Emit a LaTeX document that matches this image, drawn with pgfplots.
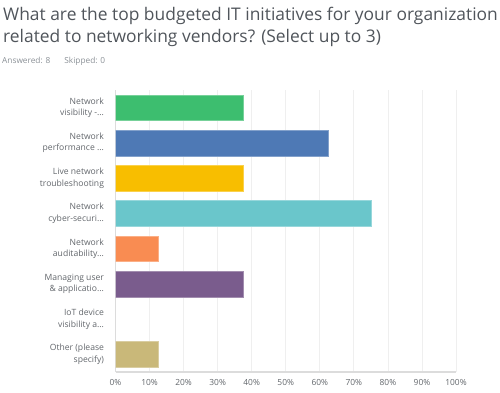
\documentclass[border=0pt]{standalone}
\usepackage{fontspec}
\setmainfont{Open Sans}
\usepackage{pgfplots}
\pgfplotsset{compat=1.18}
\newcommand{\dd}{.\kern0pt.\kern0pt.}
\definecolor{cgreen}{HTML}{3DBE6F}
\definecolor{cblue}{HTML}{4E79B5}
\definecolor{cyellow}{HTML}{F8BE00}
\definecolor{cteal}{HTML}{6AC6CB}
\definecolor{corange}{HTML}{F98C52}
\definecolor{cpurple}{HTML}{7A5C8D}
\definecolor{ctan}{HTML}{C9B879}
\definecolor{ctitle}{HTML}{50555B}
\definecolor{clabel}{HTML}{62666B}
\definecolor{csub}{HTML}{8A9096}
\definecolor{cgrid}{HTML}{EFEFEF}
\definecolor{caxis}{HTML}{DCDCDC}
\begin{document}
\begin{tikzpicture}
\path[use as bounding box] (0pt,0pt) rectangle (500pt,392pt);
\node[anchor=base west, inner sep=0pt, text=ctitle, font=\fontsize{17.4}{20}\selectfont] at (3pt,371pt) {What are the top budgeted IT initiatives for your organization};
\node[anchor=base west, inner sep=0pt, text=ctitle, font=\fontsize{17.4}{20}\selectfont] at (3pt,349pt) {related to networking vendors? (Select up to 3)};
\node[anchor=base west, inner sep=0pt, text=csub, font=\fontsize{8.3}{10}\selectfont] at (2pt,329pt) {Answered: 8\hspace{14pt}Skipped: 0};
\begin{axis}[
  at={(115.5pt,20pt)}, anchor=south west,
  scale only axis, width=340.5pt, height=282pt,
  xbar, bar width=25.7pt,
  xmin=0, xmax=100, ymin=-0.5, ymax=7.5,
  xtick={0,10,...,100},
  xticklabel={\pgfmathprintnumber{\tick}\%},
  ytick={0,1,2,3,4,5,6,7},
  yticklabels={{Other (please\\specify)},{IoT device\\visibility a\dd},{Managing user\\\& applicatio\dd},{Network\\auditability\dd},{Network\\cyber-securi\dd},{Live network\\troubleshooting},{Network\\performance \dd},{Network\\visibility -\dd}},
  yticklabel style={align=right, font=\fontsize{8.6}{11.5}\selectfont, text=clabel, xshift=-8pt},
  xticklabel style={font=\fontsize{8.4}{10}\selectfont, text=clabel, yshift=-4pt},
  /pgf/number format/assume math mode=true,
  major tick length=0pt,
  xmajorgrids, major grid style={cgrid, line width=0.8pt},
  axis x line*=bottom, axis y line*=left,
  x axis line style={caxis, line width=1.2pt, -},
  y axis line style={caxis, line width=0.8pt, -},
]
\addplot[fill=cgreen, draw=cgreen!70!white, bar shift=0pt] coordinates {(37.5,7)};
\addplot[fill=cblue, draw=cblue!70!white, bar shift=0pt] coordinates {(62.5,6)};
\addplot[fill=cyellow, draw=cyellow!70!white, bar shift=0pt] coordinates {(37.5,5)};
\addplot[fill=cteal, draw=cteal!70!white, bar shift=0pt] coordinates {(75,4)};
\addplot[fill=corange, draw=corange!70!white, bar shift=0pt] coordinates {(12.5,3)};
\addplot[fill=cpurple, draw=cpurple!70!white, bar shift=0pt] coordinates {(37.5,2)};
\addplot[fill=ctan, draw=ctan!70!white, bar shift=0pt] coordinates {(12.5,0)};
\end{axis}
\end{tikzpicture}
\end{document}
